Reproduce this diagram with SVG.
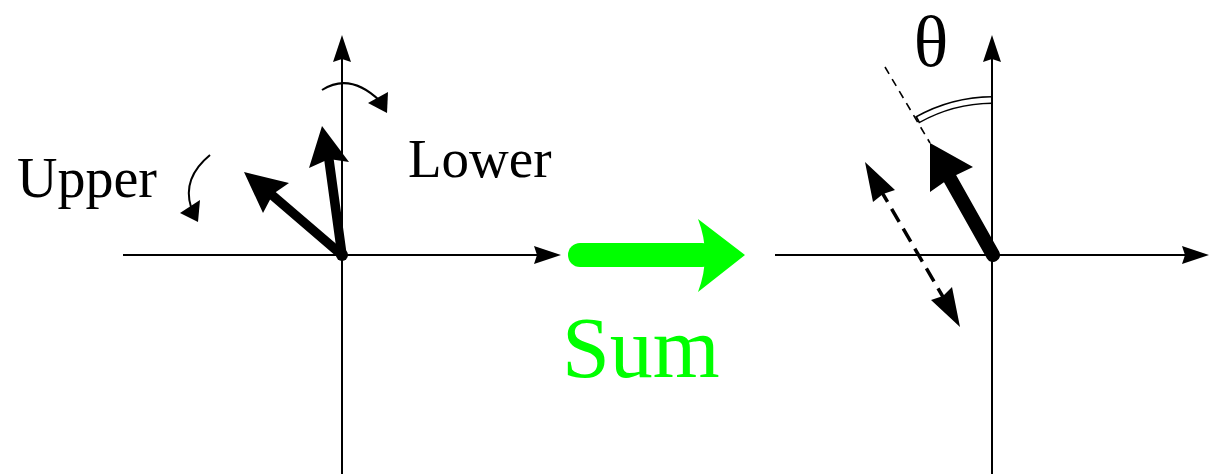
<svg xmlns="http://www.w3.org/2000/svg" width="1210" height="474" viewBox="0 0 1210 474">
<style>
.axis{stroke:#000;stroke-width:2;fill:none}
.head{fill:#000;stroke:none}
.thin{stroke:#000;stroke-width:2;fill:none}
.lbl{font-family:"Liberation Serif","Times New Roman",serif;fill:#000}
</style>
<rect width="1210" height="474" fill="#fff"/>
<g id="left-axes">
<line class="axis" x1="123" y1="255" x2="540" y2="255"/>
<path class="head" d="M561 255 L534 246 L537 255 L534 264 Z"/>
<line class="axis" x1="342" y1="474" x2="342" y2="58"/>
<path class="head" d="M342 35 L333 62 L342 59 L351 62 Z"/>
</g>
<g id="upper-vector">
<line x1="342" y1="255" x2="272" y2="195" stroke="#000" stroke-width="9.5" stroke-linecap="round"/>
<path class="head" d="M244 172 L289 183 L273 194 L263 213 Z"/>
</g>
<g id="lower-vector">
<line x1="342" y1="255" x2="329" y2="160" stroke="#000" stroke-width="9.5" stroke-linecap="round"/>
<path class="head" d="M322 126 L349 162 L329 159 L309 168 Z"/>
<circle cx="342" cy="255" r="6" fill="#000"/>
</g>
<g id="lower-rotation">
<path class="thin" d="M322 90 Q350 72 380 101"/>
<path class="head" d="M387 113 L388 92 L368 103 Z"/>
</g>
<g id="upper-rotation">
<path class="thin" d="M210 155 Q182 178 191 207"/>
<path class="head" d="M198 222 L200 200 L180 213 Z"/>
</g>
<g id="labels">
<text class="lbl" x="17" y="197" font-size="56">Upper</text>
<text class="lbl" x="408" y="177" font-size="55">Lower</text>
</g>
<g id="sum-arrow">
<line x1="580" y1="255" x2="702" y2="255" stroke="#00ff00" stroke-width="24" stroke-linecap="round"/>
<path d="M698 219 Q712 255 698 292 L745 255 Z" fill="#00ff00"/>
<text x="562" y="377" font-size="86" font-family="Liberation Serif, Times New Roman, serif" fill="#00ff00">Sum</text>
</g>
<g id="right-axes">
<line class="axis" x1="775" y1="255" x2="1188" y2="255"/>
<path class="head" d="M1209 255 L1182 246 L1185 255 L1182 264 Z"/>
<line class="axis" x1="992" y1="474" x2="992" y2="58"/>
<path class="head" d="M992 35 L983 62 L992 59 L1001 62 Z"/>
</g>
<g id="angle">
<line x1="885" y1="67" x2="930" y2="143" stroke="#000" stroke-width="1.6" stroke-dasharray="8 6"/>
<path d="M917 120 A155 155 0 0 1 993 100" fill="none" stroke="#000" stroke-width="8"/>
<path d="M918.6 119.3 A155 155 0 0 1 991 100" fill="none" stroke="#fff" stroke-width="5"/>
<text class="lbl" x="931" y="66" font-size="72" text-anchor="middle">θ</text>
</g>
<g id="sum-vector">
<line x1="993" y1="255" x2="948" y2="175" stroke="#000" stroke-width="14" stroke-linecap="round"/>
<path class="head" d="M930 143 L973 167 L950 178 L930 192 Z"/>
</g>
<g id="oscillation">
<line x1="880" y1="189" x2="946" y2="302" stroke="#000" stroke-width="3.5" stroke-dasharray="15 8"/>
<path class="head" d="M865 162 L895 190 L883 194 L873 202 Z"/>
<path class="head" d="M960 327 L931 300 L943 296 L952 287 Z"/>
</g>
</svg>
